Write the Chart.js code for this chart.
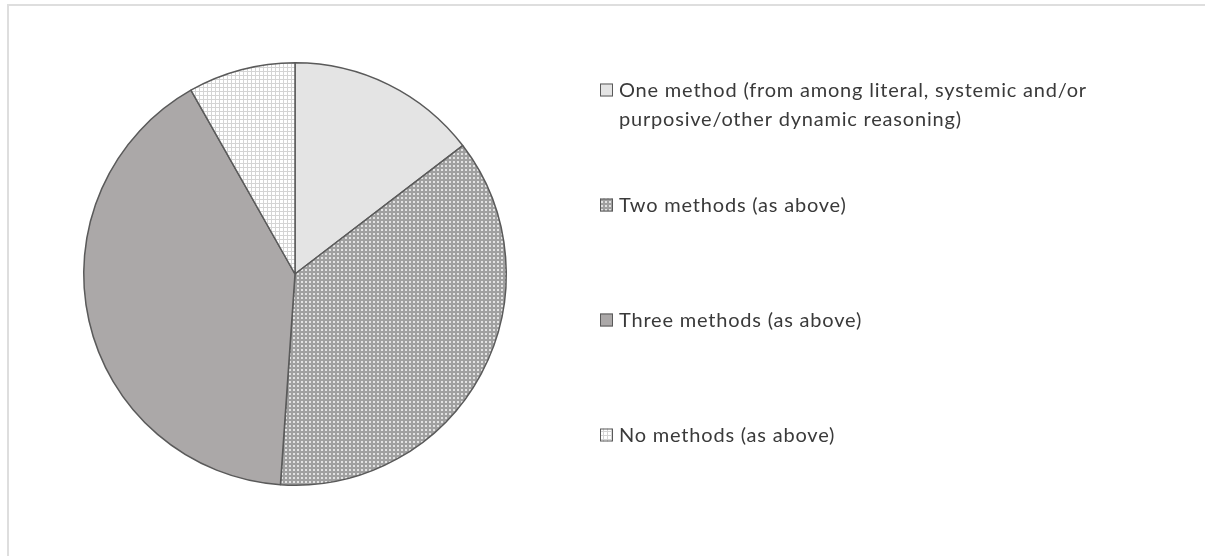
<!DOCTYPE html>
<html>
<head>
<meta charset="utf-8">
<script src="https://cdn.jsdelivr.net/npm/chart.js@4.4.0/dist/chart.umd.min.js"></script>
<style>
  html, body { margin: 0; padding: 0; background: #fff; overflow: hidden; }
  #frame {
    position: absolute; left: 7px; top: 4px; width: 1300px; height: 700px;
    border-left: 2px solid #dedede; border-top: 2px solid #dedede;
  }
  #wrap { position: absolute; left: 0; top: 0; width: 1205px; height: 556px; }
</style>
</head>
<body>
<div id="frame"></div>
<div id="wrap"><canvas id="methodsChart" width="1205" height="556"></canvas></div>
<script>
// share of judgments by number of interpretive methods used (%)
const categories = [
  ['One method (from among literal, systemic and/or', 'purposive/other dynamic reasoning)'],
  ['Two methods (as above)'],
  ['Three methods (as above)'],
  ['No methods (as above)'],
];
const shares = [14.6, 36.5, 40.7, 8.2];

// small tiled fills
function makePattern(size, base, draw) {
  const c = document.createElement('canvas');
  c.width = size;
  c.height = size;
  const g = c.getContext('2d');
  g.fillStyle = base;
  g.fillRect(0, 0, size, size);
  if (draw) draw(g);
  return document.createElement('canvas').getContext('2d').createPattern(c, 'repeat');
}

const fills = [
  '#e4e4e4',
  makePattern(4, '#a0a0a0', (g) => {
    g.fillStyle = '#e2e2e2';
    g.fillRect(1, 1, 2, 2);
  }),
  '#aba8a8',
  makePattern(4, '#ffffff', (g) => {
    g.fillStyle = '#d4d4d4';
    g.fillRect(3, 0, 1, 4);
    g.fillRect(0, 3, 4, 1);
  }),
];

// legend on the right, one entry per slice
const sideLegend = {
  id: 'sideLegend',
  afterDraw(chart) {
    const ctx = chart.ctx;
    const ds = chart.data.datasets[0];
    const x0 = 600, y0 = 90, step = 115, lineH = 29, box = 13;
    ctx.save();
    ctx.font = '20px Lato, "Open Sans", sans-serif';
    ctx.letterSpacing = '0.8px';
    ctx.textBaseline = 'middle';
    chart.data.labels.forEach((lines, i) => {
      const y = y0 + i * step;
      ctx.fillStyle = ds.backgroundColor[i];
      ctx.fillRect(x0, y - box / 2, box, box);
      ctx.strokeStyle = '#595959';
      ctx.lineWidth = 1;
      ctx.strokeRect(x0 + 0.5, y - box / 2 + 0.5, box - 1, box - 1);
      ctx.fillStyle = '#3a3a3a';
      lines.forEach((t, j) => ctx.fillText(t, x0 + 19, y + 1 + j * lineH));
    });
    ctx.restore();
  },
};

const ctx = document.getElementById('methodsChart').getContext('2d');
new Chart(ctx, {
  type: 'pie',
  data: {
    labels: categories,
    datasets: [{
      data: shares,
      backgroundColor: fills,
      borderColor: '#5a5a5a',
      borderWidth: 1.5,
    }],
  },
  options: {
    responsive: false,
    animation: false,
    layout: { padding: { left: 83, top: 62, right: 698, bottom: 70 } },
    plugins: {
      legend: { display: false },
      tooltip: { enabled: false },
    },
  },
  plugins: [sideLegend],
});
</script>
</body>
</html>
